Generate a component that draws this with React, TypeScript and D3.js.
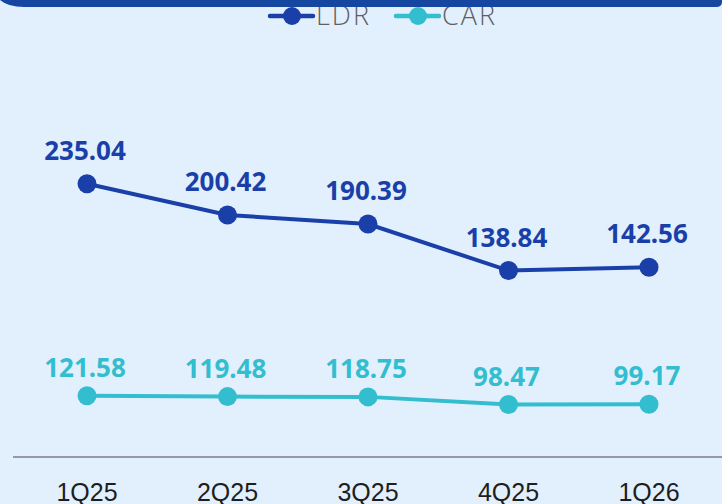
import React from "react";
import * as d3 from "d3";

const categories = ["1Q25", "2Q25", "3Q25", "4Q25", "1Q26"];
const ldrValues = [235.04, 200.42, 190.39, 138.84, 142.56];
const carValues = [121.58, 119.48, 118.75, 98.47, 99.17];
const seriesNames = ["LDR", "CAR"];

const W = 722;
const H = 504;
const LDR_COLOR = "#1a3fa9";
const CAR_COLOR = "#33bed0";
const BG = "#e2f0fd";

export default function App() {
  const x = d3.scalePoint<string>().domain(categories).range([87, 649]);
  const yLdr = d3.scaleLinear().domain([0, 300]).range([396, 125]);
  const yCar = d3.scaleLinear().domain([0, 200]).range([442, 366]);

  const ldrLine = d3
    .line<number>()
    .x((_, i) => x(categories[i]) as number)
    .y((d) => yLdr(d));
  const carLine = d3
    .line<number>()
    .x((_, i) => x(categories[i]) as number)
    .y((d) => yCar(d));

  const labelFont = "'Noto Sans', 'Open Sans', sans-serif";

  const series = [
    { name: seriesNames[0], values: ldrValues, y: yLdr, line: ldrLine, color: LDR_COLOR, off: 24 },
    { name: seriesNames[1], values: carValues, y: yCar, line: carLine, color: CAR_COLOR, off: 19 },
  ];

  const legendItems = [
    { name: seriesNames[0], color: LDR_COLOR, x0: 270 },
    { name: seriesNames[1], color: CAR_COLOR, x0: 396 },
  ];

  return (
    <svg
      width={W}
      height={H}
      style={{ position: "absolute", left: 0, top: 0, display: "block" }}
      xmlns="http://www.w3.org/2000/svg"
    >
      <rect x={0} y={0} width={W} height={H} fill={BG} />

      {/* legend */}
      {legendItems.map((it) => (
        <g key={it.name}>
          <line x1={it.x0} x2={it.x0 + 43} y1={16} y2={16} stroke={it.color} strokeWidth={4.5} strokeLinecap="round" />
          <circle cx={it.x0 + 22} cy={16} r={9} fill={it.color} />
          <text
            x={it.x0 + 46}
            y={25}
            fontFamily="'Open Sans', sans-serif"
            fontSize={27}
            fontWeight={300}
            letterSpacing={2}
            fill="#5f5f5f"
          >
            {it.name}
          </text>
        </g>
      ))}

      {/* top band */}
      <path
        d={`M0,0 H${W} V2 Q${W},7 ${W - 6},7 H24 Q8,7 0,0 Z`}
        fill="#1547a0"
      />

      {/* axis */}
      <line x1={13} x2={W} y1={457} y2={457} stroke="#7a7f86" strokeWidth={1.5} />
      {categories.map((c) => (
        <text
          key={c}
          x={x(c)}
          y={501}
          textAnchor="middle"
          fontFamily="'Liberation Sans Narrow', 'Liberation Sans', sans-serif"
          fontSize={25}
          fill="#1e1e1e"
        >
          {c}
        </text>
      ))}

      {series.map((s) => (
        <g key={s.name}>
          <path d={s.line(s.values) || ""} fill="none" stroke={s.color} strokeWidth={4} />
          {s.values.map((v, i) => (
            <circle key={i} cx={x(categories[i])} cy={s.y(v)} r={9.5} fill={s.color} />
          ))}
          {s.values.map((v, i) => (
            <text
              key={"t" + i}
              x={(x(categories[i]) as number) - 2}
              y={s.y(v) - s.off}
              textAnchor="middle"
              fontFamily={labelFont}
              fontSize={26}
              fontWeight={700}
              fill={s.color}
            >
              {v.toFixed(2)}
            </text>
          ))}
        </g>
      ))}
    </svg>
  );
}
